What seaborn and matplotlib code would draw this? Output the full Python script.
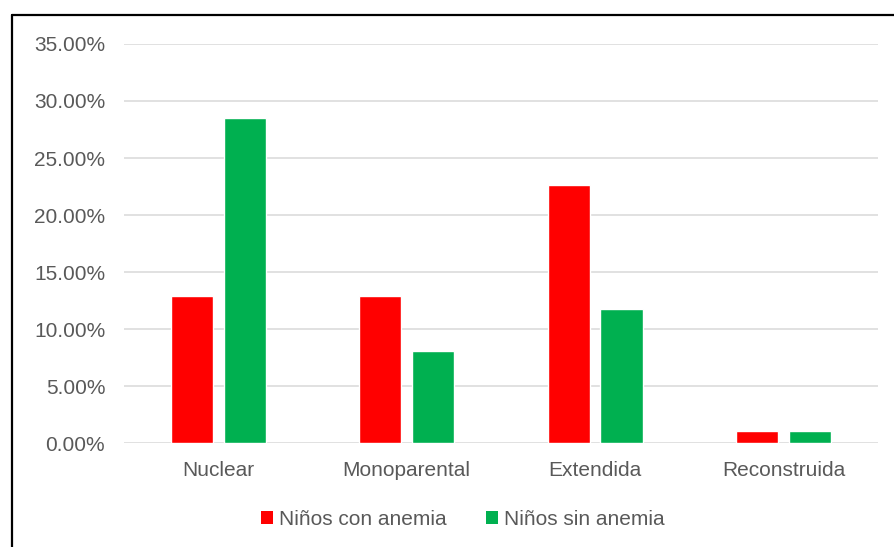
import matplotlib
matplotlib.use("Agg")
import matplotlib.pyplot as plt
from matplotlib.lines import Line2D
from matplotlib.patches import Patch
import seaborn as sns
import pandas as pd

# Family type categories and percentages per group
categorias = ["Nuclear", "Monoparental", "Extendida", "Reconstruida"]
con_anemia = [12.9, 12.9, 22.6, 1.1]
sin_anemia = [28.5, 8.1, 11.8, 1.1]
series = ["Niños con anemia", "Niños sin anemia"]
colores = ["#FF0000", "#00B050"]
y_ticks = [0, 5, 10, 15, 20, 25, 30, 35]

df = pd.DataFrame({
    "Tipo": categorias * 2,
    "Grupo": [series[0]] * len(categorias) + [series[1]] * len(categorias),
    "Porcentaje": con_anemia + sin_anemia,
})

sns.set_theme(style="white")
plt.rcParams["font.family"] = ["Liberation Sans", "DejaVu Sans"]
texto = "#595959"
fs = 15

fig = plt.figure(figsize=(8.94, 5.47), dpi=100)
ax = fig.add_axes([0.1387, 0.190, 0.8433, 0.7296])

sns.barplot(data=df, x="Tipo", y="Porcentaje", hue="Grupo",
            order=categorias, hue_order=series,
            palette=colores, width=0.56, gap=0.2,
            saturation=1, errorbar=None, ax=ax, zorder=3)

ax.set_ylim(0, 35)
ax.set_xlim(-0.5, len(categorias) - 0.5)
ax.set_yticks(y_ticks)
ax.set_yticklabels([f"{v:.2f}%" for v in y_ticks])
ax.yaxis.grid(True, color="#D9D9D9", linewidth=1.1, zorder=0)
ax.xaxis.grid(False)
for s in ax.spines.values():
    s.set_visible(False)
ax.tick_params(axis="y", length=0, pad=13.5, labelsize=fs, labelcolor=texto)
ax.tick_params(axis="x", length=0, pad=13, labelsize=fs, labelcolor=texto)
ax.set_xlabel("")
ax.set_ylabel("")

if ax.get_legend() is not None:
    ax.get_legend().remove()
handles = [Patch(facecolor=c, edgecolor="none") for c in colores]
fig.legend(handles, series, loc="center", bbox_to_anchor=(0.518, 0.051),
           ncol=2, frameon=False, fontsize=fs, labelcolor=texto,
           handlelength=0.55, handleheight=0.55, handletextpad=0.3,
           columnspacing=1.9)

# Chart frame (top and left edges)
top = 1 - 15 / 547
left = 11.5 / 894
fig.add_artist(Line2D([left, 1.0], [top, top], color="black", linewidth=1.6,
                      transform=fig.transFigure))
fig.add_artist(Line2D([left, left], [0.0, top], color="black", linewidth=1.6,
                      transform=fig.transFigure))

fig.savefig("out.png", dpi=100, facecolor="white")
